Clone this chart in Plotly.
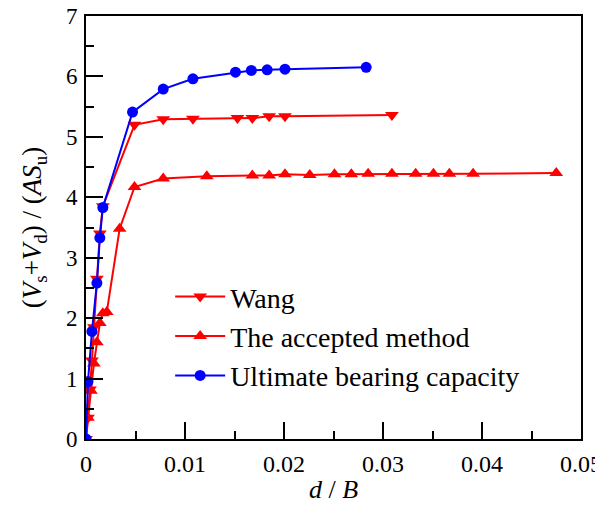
import plotly.graph_objects as go

# Wang (down triangles)
wang_x = [0.0, 0.0002, 0.0004, 0.0006, 0.0008, 0.0011, 0.0014, 0.0017, 0.0049, 0.0078, 0.0108, 0.0153, 0.0168, 0.0185, 0.0201, 0.0309]
wang_y = [0.0, 0.35, 0.82, 1.30, 1.85, 2.65, 3.40, 3.85, 5.20, 5.29, 5.30, 5.31, 5.31, 5.34, 5.34, 5.36]

# The accepted method (up triangles)
acc_x = [0.0, 0.0002, 0.0005, 0.0008, 0.0011, 0.0014, 0.0017, 0.0021, 0.0034, 0.0049, 0.0078, 0.0122,
         0.0168, 0.0185, 0.0201, 0.0226, 0.0251, 0.0268, 0.0285, 0.0309, 0.0333, 0.0351, 0.0367, 0.0391, 0.0475]
acc_y = [0.0, 0.35, 0.80, 1.25, 1.60, 1.92, 2.08, 2.10, 3.48, 4.17, 4.31, 4.35,
         4.36, 4.36, 4.38, 4.37, 4.38, 4.38, 4.39, 4.39, 4.39, 4.39, 4.39, 4.39, 4.40]

# Ultimate bearing capacity (circles)
ult_x = [0.0, 0.0002, 0.0006, 0.0011, 0.0014, 0.0017, 0.0047, 0.0078, 0.0108, 0.0151, 0.0167, 0.0183, 0.0201, 0.0283]
ult_y = [0.0, 0.95, 1.78, 2.58, 3.33, 3.83, 5.41, 5.79, 5.96, 6.07, 6.10, 6.11, 6.12, 6.15]

x_ticks = [0, 0.01, 0.02, 0.03, 0.04, 0.05]
x_tick_labels = ["0", "0.01", "0.02", "0.03", "0.04", "0.05"]
y_ticks = [0, 1, 2, 3, 4, 5, 6, 7]

FONT = "Liberation Serif"

fig = go.Figure()
fig.add_trace(go.Scatter(x=wang_x, y=wang_y, mode="lines+markers", name="Wang",
                         line=dict(color="#ff0000", width=2),
                         marker=dict(symbol="triangle-down", size=12, color="#ff0000")))
fig.add_trace(go.Scatter(x=acc_x, y=acc_y, mode="lines+markers", name="The accepted method",
                         line=dict(color="#ff0000", width=2),
                         marker=dict(symbol="triangle-up", size=12, color="#ff0000")))
fig.add_trace(go.Scatter(x=ult_x, y=ult_y, mode="lines+markers", name="Ultimate bearing capacity",
                         line=dict(color="#0000ff", width=2),
                         marker=dict(symbol="circle", size=11, color="#0000ff")))

fig.update_layout(
    width=595, height=508,
    margin=dict(l=78, r=22, t=8, b=77),
    paper_bgcolor="white", plot_bgcolor="white",
    font=dict(family=FONT, size=24, color="black"),
    showlegend=True,
    legend=dict(x=0.17, y=0.395, xanchor="left", yanchor="top",
                bgcolor="rgba(0,0,0,0)", font=dict(family=FONT, size=28),
                tracegroupgap=0, itemwidth=50),
    xaxis=dict(range=[0, 0.05], tickvals=x_ticks, ticktext=x_tick_labels,
               automargin=False, ticklabeloverflow="allow",
               ticks="inside", ticklen=17, tickwidth=1.5, tickcolor="black",
               ticklabelstandoff=2,
               tickfont=dict(family=FONT, size=24),
               minor=dict(dtick=0.005, ticks="inside", ticklen=8, tickwidth=1.5, tickcolor="black"),
               showline=True, linecolor="black", linewidth=2, mirror=True,
               showgrid=False, zeroline=False,
               title=dict(text="<i>d</i> / <i>B</i>", font=dict(family=FONT, size=26), standoff=4)),
    yaxis=dict(range=[0, 7], tickvals=y_ticks,
               automargin=False, ticklabeloverflow="allow",
               ticks="inside", ticklen=17, tickwidth=1.5, tickcolor="black",
               ticklabelstandoff=2,
               tickfont=dict(family=FONT, size=23),
               minor=dict(dtick=0.5, ticks="inside", ticklen=8, tickwidth=1.5, tickcolor="black"),
               showline=True, linecolor="black", linewidth=2, mirror=True,
               showgrid=False, zeroline=False,
               title=dict(text="(<i>V</i><sub>s</sub>+<i>V</i><sub>d</sub>) / (<i>AS</i><sub>u</sub>)",
                          font=dict(family=FONT, size=27), standoff=16)),
)

fig.write_html("out.html")
